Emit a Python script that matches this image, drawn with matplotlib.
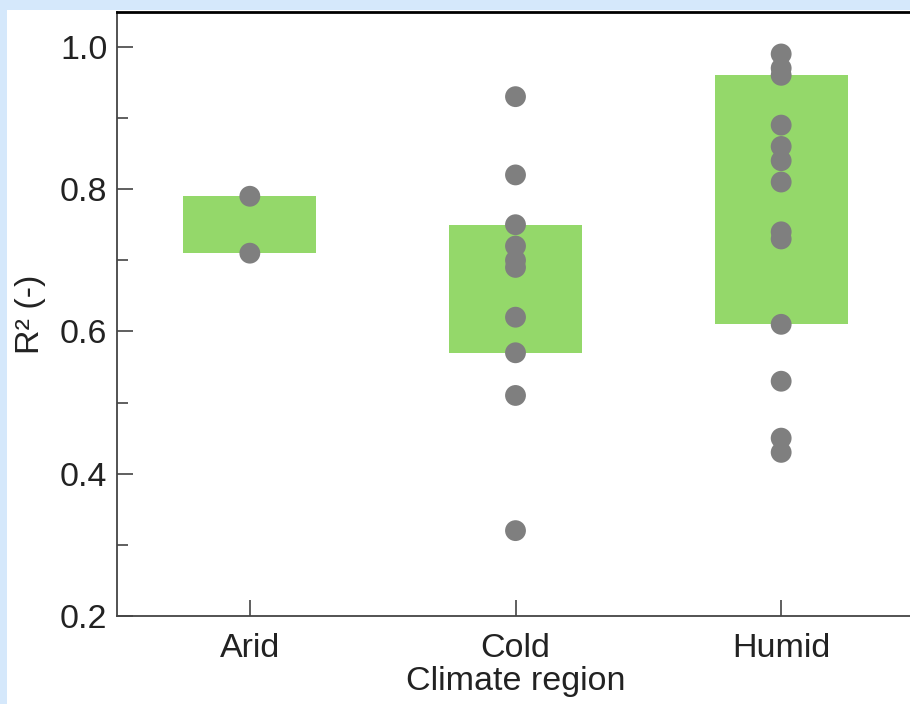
import matplotlib
matplotlib.use("Agg")
import matplotlib.pyplot as plt
from matplotlib.patches import Rectangle
from matplotlib.ticker import MultipleLocator, FormatStrFormatter

plt.rcParams["font.family"] = ["Liberation Sans", "DejaVu Sans"]

# ── Data ─────────────────────────────────────────────────────────────────────
REGIONS = ["Arid", "Cold", "Humid"]
BAR_LOW = [0.71, 0.57, 0.61]
BAR_HIGH = [0.79, 0.75, 0.96]

ARID_R2 = [0.79, 0.71]
COLD_R2 = [0.93, 0.82, 0.75, 0.72, 0.70, 0.69, 0.62, 0.57, 0.51, 0.32]
HUMID_R2 = [0.99, 0.97, 0.96, 0.89, 0.86, 0.84, 0.81, 0.74, 0.73, 0.61,
            0.53, 0.45, 0.43]
POINTS = [ARID_R2, COLD_R2, HUMID_R2]

GREEN = "#94D86A"
GREY = "#7F7F7F"
BG = "#D5E8FB"

# ── Plot ─────────────────────────────────────────────────────────────────────
fig = plt.figure(figsize=(9.1, 7.04), dpi=100, facecolor=BG)
fig.patches.append(Rectangle((7 / 910, 0), 1, (704 - 10) / 704,
                             transform=fig.transFigure, facecolor="white",
                             edgecolor="none", zorder=-10))

ax = fig.add_axes([117 / 910, 88 / 704, 797 / 910, 604 / 704])
ax.set_facecolor("white")

xs = list(range(len(REGIONS)))
heights = [hi - lo for lo, hi in zip(BAR_LOW, BAR_HIGH)]
ax.bar(xs, heights, bottom=BAR_LOW, width=0.5, color=GREEN, zorder=1)

for x, vals in zip(xs, POINTS):
    ax.scatter([x] * len(vals), vals, s=225, color=GREY, edgecolors="none",
               zorder=3)

ax.set_xlim(-0.5, 2.5)
ax.set_ylim(0.2, 1.049)
ax.set_xticks(xs)
ax.set_xticklabels(REGIONS)
ax.yaxis.set_major_locator(MultipleLocator(0.2))
ax.yaxis.set_minor_locator(MultipleLocator(0.1))
ax.yaxis.set_major_formatter(FormatStrFormatter("%.1f"))

ax.tick_params(axis="both", which="major", direction="in", length=11.5,
               width=1.2, color="#444444", labelsize=24.5, pad=7,
               labelcolor="#222222")
ax.tick_params(axis="x", which="major", pad=12.5)
ax.tick_params(axis="y", which="minor", direction="in", length=8,
               width=1.2, color="#444444")

for side in ("left", "bottom"):
    ax.spines[side].set_color("#444444")
    ax.spines[side].set_linewidth(1.3)
ax.spines["top"].set_color("black")
ax.spines["top"].set_linewidth(2.0)
ax.spines["right"].set_visible(False)

ax.set_xlabel("Climate region", fontsize=24.5, color="#222222", labelpad=1)
ax.set_ylabel("R² (-)", fontsize=24.5, color="#222222", labelpad=10)

fig.savefig("out.png", dpi=100, facecolor=BG)
